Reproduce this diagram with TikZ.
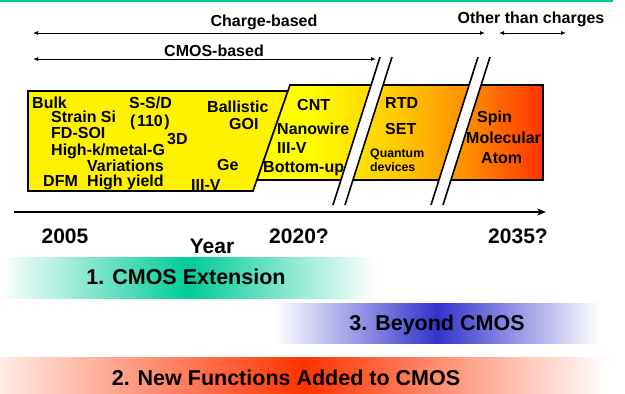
\documentclass[tikz,border=0pt]{standalone}
\usepackage{fontspec}
\setmainfont{Liberation Sans}
\usetikzlibrary{arrows.meta}

\definecolor{bandgreen}{HTML}{00CC99}
\definecolor{bandblue}{HTML}{3333CC}
\definecolor{bandred}{HTML}{FF3300}
\definecolor{techgold}{HTML}{FFC800}
\definecolor{techorange}{HTML}{FF8C00}

% yellow -> orange -> red ramp of the technology strip
\pgfdeclarehorizontalshading{techgrad}{100bp}{%
  color(0bp)=(yellow); color(25bp)=(yellow); color(34bp)=(yellow);
  color(50bp)=(techgold); color(62bp)=(techorange);
  color(75bp)=(bandred); color(100bp)=(bandred)}

\begin{document}
\begin{tikzpicture}[x=1pt,y=-1pt,
  item/.style={font=\bfseries\fontsize{16}{16}\selectfont, inner sep=0pt,
    text height=11.5pt, text depth=0pt, anchor=west},
  smallitem/.style={font=\bfseries\fontsize{12.3}{12.3}\selectfont, inner sep=0pt,
    text height=8.8pt, text depth=0pt, anchor=west},
  toplabel/.style={font=\bfseries\fontsize{16}{16}\selectfont, inner sep=0pt,
    text height=11.5pt, text depth=0pt},
  yearlabel/.style={font=\bfseries\fontsize{21}{21}\selectfont, inner sep=0pt,
    text height=15pt, text depth=0pt},
  bandlabel/.style={font=\bfseries\fontsize{21.5}{21.5}\selectfont, inner sep=0pt,
    text height=15.4pt, text depth=0pt},
  span/.style={line width=0.9pt, {Latex[length=5pt,width=4pt]}-{Latex[length=5pt,width=4pt]}},
  outline/.style={line width=1.6pt, line join=miter},
  breakline/.style={line width=1.6pt},
]
\useasboundingbox (0,0) rectangle (625,394);

% rule across the top
\draw[bandgreen, line width=1.5pt] (0,1) -- (613,1);

% ranges above the strip
\coordinate (cb0) at (33,33);  \coordinate (cb1) at (485,33);
\coordinate (mb0) at (33,59);  \coordinate (mb1) at (376,59);
\coordinate (ot0) at (499,33); \coordinate (ot1) at (566,33);
\draw[span] (cb0) -- (cb1);
\draw[span] (mb0) -- (mb1);
\draw[span] (ot0) -- (ot1);
\node[toplabel] (charge) at (264,21) {Charge-based};
\node[toplabel] (cmosb) at (214,51) {CMOS-based};
\node[toplabel] (other) at (531,17.5) {Other than charges};

% CMOS strip
\draw[outline, fill=yellow] (28,91) -- (288,91) -- (253,191) -- (28,191) -- cycle;
% post-CMOS strip
\shade[shading=techgrad, draw, outline] (290,85) -- (543,85) -- (543,180) -- (257,180) -- cycle;

% breaks in the time line
\fill[white] (380,57) -- (392,57) -- (345,205) -- (333,205) -- cycle;
\draw[breakline] (380,57) -- (333,205);
\draw[breakline] (392,57) -- (345,205);
\fill[white] (478,57) -- (490,57) -- (443,205) -- (431,205) -- cycle;
\draw[breakline] (478,57) -- (431,205);
\draw[breakline] (490,57) -- (443,205);

% CMOS items
\node[item] (bulk) at (32,103) {Bulk};
\node[item] (strain) at (51,117) {Strain Si};
\node[item] (fdsoi) at (51,133) {FD-SOI};
\node[item] (hik) at (51,150) {High-k/metal-G};
\node[item] (var) at (87,166) {Variations};
\node[item] (dfm) at (43,181) {DFM};
\node[item] (yield) at (87,181) {High yield};
\node[item] (ssd) at (129,103) {S-S/D};
\node[item] (o110) at (130,121) {(\kern1.5pt110\kern1.5pt)};
\node[item] (threed) at (167,139) {3D};
\node[item] (ball) at (207,107) {Ballistic};
\node[item] (goi) at (229,124) {GOI};
\node[item] (ge) at (217,165) {Ge};
\node[item] (iiiva) at (191,185) {III-V};

% later items
\node[item] (cnt) at (297,105) {CNT};
\node[item] (nano) at (277,129) {Nanowire};
\node[item] (iiivb) at (277,148) {III-V};
\node[item] (bottom) at (263,167) {Bottom-up};
\node[item] (rtd) at (385,103) {RTD};
\node[item] (set) at (385,129) {SET};
\node[smallitem] (quant) at (370,153) {Quantum};
\node[smallitem] (dev) at (370,167) {devices};
\node[item] (spin) at (477,117) {Spin};
\node[item] (mol) at (466,138) {Molecular};
\node[item] (atom) at (481,158) {Atom};

% time axis
\coordinate (ax0) at (14,212);
\coordinate (ax1) at (546,212);
\draw[line width=1.8pt, -{Stealth[length=9pt,width=7pt]}] (ax0) -- (ax1);
\node[yearlabel] (y2005) at (65,236) {2005};
\node[yearlabel] (y2020) at (299,236) {2020?};
\node[yearlabel] (y2035) at (518,236) {2035?};
\node[yearlabel] (year) at (212,246) {Year};

% roadmap bands
\shade[left color=white, right color=white, middle color=bandgreen] (0,257) rectangle (376,298);
\node[bandlabel] (ext) at (186,277) {1. CMOS Extension};
\shade[left color=white, right color=white, middle color=bandblue] (275,303) rectangle (600,343);
\node[bandlabel] (beyond) at (437,323) {3. Beyond CMOS};
\shade[left color=bandred!10, right color=white, middle color=bandred] (0,357) rectangle (608,394);
\node[bandlabel] (newf) at (286,378) {2. New Functions Added to CMOS};
\end{tikzpicture}
\end{document}
